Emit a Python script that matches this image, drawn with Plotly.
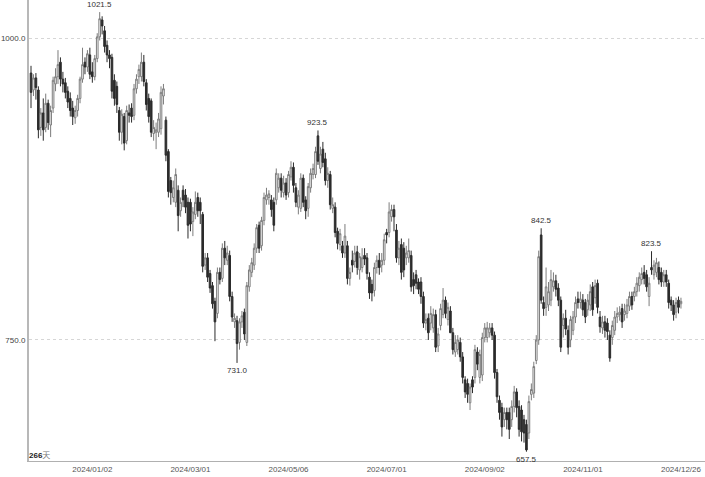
import plotly.graph_objects as go

# ---- data ----
opens = [
    971, 957, 967, 957, 926, 938, 926, 946, 928, 942,
    962, 968, 980, 966, 963, 956, 950, 942, 934, 940,
    950, 966, 980, 976, 986, 972, 968, 983, 1001, 1015,
    1006, 994, 986, 984, 965, 960, 940, 922, 935, 915,
    938, 942, 936, 958, 968, 968, 980, 963, 950, 948,
    921, 922, 922, 925, 952, 932, 906, 882, 868, 864,
    874, 857, 874, 870, 864, 864, 848, 854, 868, 864,
    854, 812, 818, 805, 795, 782, 772, 806, 801, 826,
    816, 820, 786, 765, 766, 748, 765, 773, 748, 794,
    806, 812, 826, 845, 828, 849, 866, 868, 866, 864,
    866, 876, 884, 872, 880, 872, 885, 893, 876, 860,
    859, 884, 866, 859, 876, 887, 887, 919, 892, 908,
    900, 882, 887, 859, 860, 840, 829, 828, 822, 828,
    801, 816, 815, 823, 808, 810, 820, 818, 802, 796,
    791, 810, 816, 812, 816, 839, 839, 852, 858, 841,
    818, 829, 826, 818, 818, 820, 800, 804, 798, 798,
    786, 764, 768, 764, 760, 771, 745, 762, 771, 783,
    767, 774, 756, 740, 742, 748, 736, 717, 714, 698,
    717, 719, 740, 719, 721, 752, 752, 756, 760, 754,
    723, 700, 694, 684, 690, 690, 684, 695, 707, 695,
    692, 684, 680, 673, 705, 706, 733, 750, 837, 781,
    777, 779, 783, 794, 799, 793, 783, 762, 768, 758,
    750, 758, 769, 784, 781, 783, 781, 775, 779, 794,
    785, 797, 769, 760, 765, 764, 754, 752, 758, 769,
    771, 776, 771, 772, 778, 786, 786, 790, 795, 800,
    806, 804, 786, 810, 804, 806, 810, 806, 798, 804,
    797, 783, 779, 773, 783, 780,
]
highs = [
    977, 970, 971, 960, 942, 950, 954, 949, 944, 968,
    975, 990, 984, 972, 967, 960, 955, 948, 944, 953,
    968, 992, 984, 990, 992, 980, 986, 1004, 1021.5, 1018,
    1010, 998, 990, 987, 970, 964, 943, 941, 938, 944,
    945, 946, 962, 970, 978, 988, 986, 966, 954, 950,
    932, 930, 938, 960, 962, 935, 908, 885, 882, 892,
    878, 868, 878, 875, 868, 867, 860, 873, 872, 868,
    856, 822, 822, 808, 798, 785, 810, 810, 830, 832,
    828, 824, 790, 772, 770, 768, 774, 776, 798, 812,
    818, 830, 846, 848, 852, 872, 876, 874, 870, 868,
    892, 888, 888, 886, 884, 890, 898, 897, 880, 874,
    888, 887, 869, 880, 892, 896, 910, 923.5, 910, 914,
    905, 893, 890, 868, 864, 843, 842, 832, 846, 832,
    810, 824, 828, 828, 822, 826, 826, 822, 806, 800,
    814, 820, 822, 822, 838, 842, 864, 862, 862, 846,
    832, 834, 831, 828, 834, 824, 806, 808, 801, 802,
    790, 772, 772, 778, 776, 775, 760, 780, 793, 786,
    781, 778, 760, 754, 754, 752, 740, 720, 718, 714,
    720, 746, 744, 742, 756, 764, 765, 764, 764, 757,
    726, 704, 698, 694, 694, 694, 700, 712, 710, 700,
    696, 688, 684, 704, 714, 732, 754, 824, 842.5, 786,
    810, 798, 808, 806, 804, 797, 786, 772, 775, 762,
    770, 774, 786, 790, 790, 788, 784, 788, 796, 798,
    800, 800, 774, 770, 770, 768, 758, 766, 774, 777,
    778, 780, 780, 784, 790, 790, 794, 802, 806, 810,
    812, 808, 802, 823.5, 816, 818, 815, 810, 808, 808,
    800, 786, 783, 785, 786, 785,
]
lows = [
    942, 952, 949, 917, 919, 915, 922, 924, 918, 938,
    956, 962, 960, 955, 950, 942, 935, 928, 929, 935,
    946, 963, 970, 972, 966, 963, 965, 980, 998, 1003,
    988, 980, 975, 950, 944, 938, 915, 912, 907, 912,
    930, 930, 932, 954, 962, 964, 960, 940, 930, 918,
    915, 908, 918, 920, 945, 898, 868, 862, 864, 860,
    840, 852, 860, 855, 834, 840, 836, 850, 852, 846,
    806, 808, 798, 789, 776, 749, 768, 796, 798, 812,
    812, 782, 765, 760, 731, 742, 760, 750, 745, 790,
    802, 808, 822, 822, 824, 845, 862, 862, 852, 840,
    862, 872, 868, 868, 866, 868, 882, 872, 860, 854,
    856, 860, 850, 852, 872, 883, 884, 895, 888, 893,
    878, 876, 858, 855, 835, 825, 824, 818, 818, 796,
    795, 806, 810, 804, 800, 806, 812, 800, 784, 782,
    786, 805, 804, 806, 812, 830, 835, 848, 840, 814,
    812, 800, 802, 812, 814, 790, 788, 792, 788, 780,
    760, 758, 750, 758, 756, 740, 740, 758, 768, 768,
    762, 756, 738, 736, 738, 732, 714, 702, 698, 692,
    706, 714, 725, 714, 716, 748, 748, 752, 750, 718,
    698, 684, 670, 678, 676, 668, 678, 690, 686, 670,
    666, 665, 657.5, 668, 700, 702, 730, 746, 780, 770,
    770, 774, 778, 790, 786, 778, 740, 752, 754, 738,
    744, 754, 764, 776, 776, 770, 764, 770, 774, 770,
    780, 772, 756, 755, 752, 750, 732, 746, 754, 764,
    766, 760, 766, 768, 774, 775, 782, 786, 790, 796,
    796, 790, 778, 804, 800, 802, 796, 794, 794, 794,
    776, 774, 766, 768, 772, 776,
]
closes = [
    955, 967, 959, 924, 938, 924, 946, 930, 940, 965,
    968, 978, 966, 962, 955, 947, 940, 935, 940, 950,
    966, 978, 976, 987, 970, 968, 983, 1001, 1016, 1010,
    993, 986, 983, 956, 950, 945, 922, 937, 913, 940,
    936, 935, 958, 966, 974, 980, 964, 945, 935, 922,
    926, 924, 933, 955, 958, 903, 873, 872, 876, 887,
    853, 864, 866, 860, 845, 846, 856, 864, 857, 857,
    811, 818, 802, 793, 780, 765, 806, 800, 826, 818,
    822, 786, 769, 768, 747, 765, 770, 755, 795, 808,
    814, 826, 843, 826, 849, 868, 870, 871, 858, 845,
    888, 884, 874, 880, 870, 887, 893, 878, 864, 870,
    884, 864, 857, 877, 888, 892, 906, 898, 904, 897,
    882, 888, 862, 862, 839, 830, 838, 822, 836, 801,
    806, 812, 822, 810, 819, 818, 817, 805, 789, 789,
    810, 816, 810, 816, 833, 837, 856, 858, 852, 818,
    826, 806, 808, 822, 824, 794, 795, 797, 792, 786,
    764, 767, 756, 772, 771, 744, 755, 776, 783, 772,
    777, 756, 742, 748, 750, 736, 719, 707, 705, 711,
    711, 742, 730, 738, 752, 760, 760, 760, 754, 723,
    703, 690, 678, 690, 684, 676, 695, 707, 694, 676,
    674, 673, 659, 699, 709, 728, 750, 819, 783, 776,
    794, 790, 800, 799, 792, 783, 744, 768, 759, 744,
    767, 769, 781, 781, 784, 775, 769, 783, 790, 775,
    795, 777, 761, 765, 758, 757, 735, 762, 769, 772,
    773, 765, 774, 779, 786, 779, 790, 797, 802, 805,
    801, 794, 797, 808, 812, 814, 800, 798, 804, 798,
    781, 779, 771, 781, 777, 782,
]

tick_index = [25, 65, 105, 145, 185, 225, 265]
tick_labels = ["2024/01/02", "2024/03/01", "2024/05/06", "2024/07/01",
               "2024/09/02", "2024/11/01", "2024/12/26"]
y_ticks = [750, 1000]
y_tick_labels = ["750.0", "1000.0"]

high_marks = [28, 117, 208, 253]   # bars whose high is labelled
low_marks = [84, 202]              # bars whose low is labelled

x = list(range(len(closes)))

fig = go.Figure()
fig.add_trace(go.Candlestick(
    x=x, open=opens, high=highs, low=lows, close=closes,
    increasing=dict(line=dict(color="#7c7c7c", width=1), fillcolor="#ffffff"),
    decreasing=dict(line=dict(color="#2b2b2b", width=1), fillcolor="#2b2b2b"),
    whiskerwidth=0, hoverinfo="skip", showlegend=False,
))

for i in high_marks:
    fig.add_annotation(x=i, y=highs[i], text=f"{highs[i]:.1f}", showarrow=False,
                       yanchor="bottom", yshift=1,
                       font=dict(size=8, color="#333333", family="Liberation Sans, Arial"))
for i in low_marks:
    fig.add_annotation(x=i, y=lows[i], text=f"{lows[i]:.1f}", showarrow=False,
                       yanchor="top", yshift=-1,
                       font=dict(size=8, color="#333333", family="Liberation Sans, Arial"))

fig.add_annotation(xref="paper", yref="paper", x=0, y=0, xanchor="left", yanchor="bottom",
                   text=f"<b>{len(closes)}</b><span style='color:#777'>天</span>",
                   showarrow=False, yshift=-1, xshift=-2,
                   font=dict(size=8, color="#222222", family="Liberation Sans, Noto Sans CJK SC"))

fig.update_layout(
    width=705, height=477,
    margin=dict(l=29, r=0, t=0, b=16, autoexpand=False),
    boxgap=0.05,
    paper_bgcolor="#ffffff", plot_bgcolor="#ffffff",
    font=dict(family="Liberation Sans, Arial", size=8, color="#555555"),
    xaxis=dict(
        range=[-0.82, 274.8], rangeslider=dict(visible=False), automargin=False,
        tickmode="array", tickvals=tick_index, ticktext=tick_labels,
        showgrid=False, zeroline=False, showline=True, linecolor="#b0b0b0", linewidth=1,
        ticks="", tickfont=dict(size=8, color="#555555"),
    ),
    yaxis=dict(
        range=[649.8, 1031.5], automargin=False,
        tickmode="array", tickvals=y_ticks, ticktext=y_tick_labels,
        showgrid=True, gridcolor="#d6d6d6", griddash="dot", gridwidth=1,
        zeroline=False, showline=True, linecolor="#b8b8b8", linewidth=2,
        ticks="", tickfont=dict(size=8, color="#444444"),
    ),
)

fig.write_html("out.html", config={"displayModeBar": False},
               post_script="document.body.style.margin='0';document.body.style.overflow='hidden';")
